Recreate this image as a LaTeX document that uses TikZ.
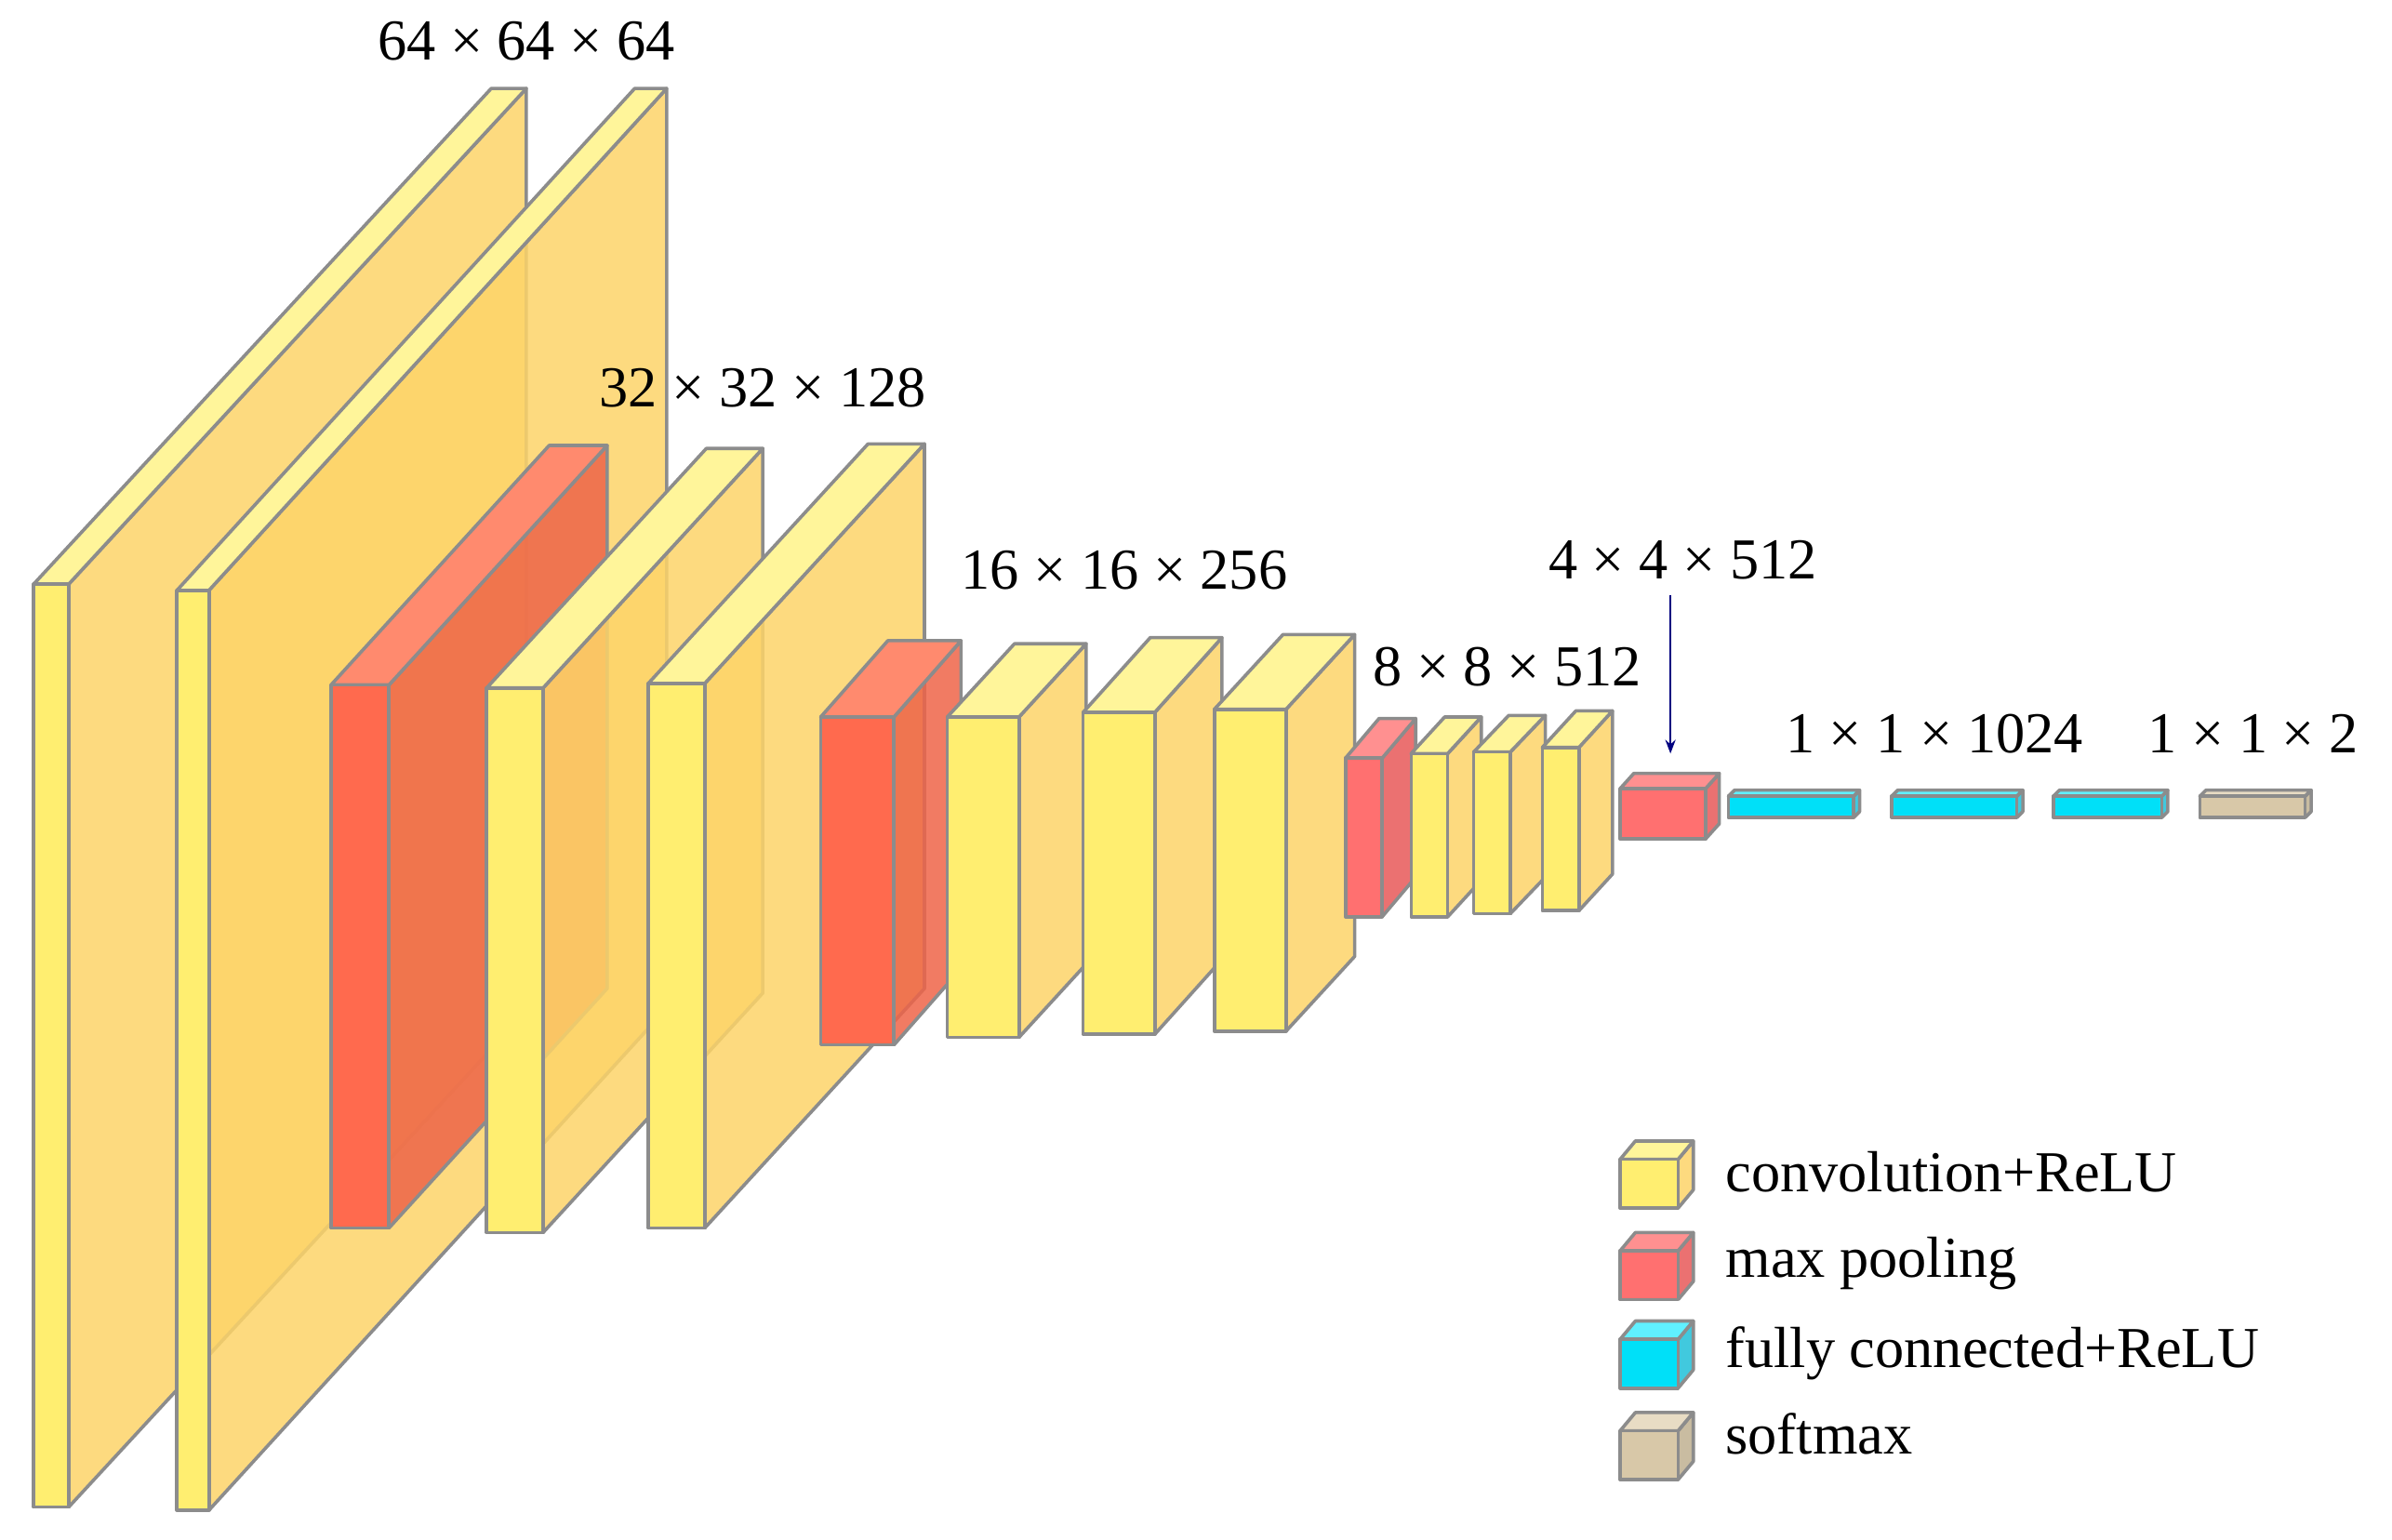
\documentclass[tikz,border=0pt]{standalone}
\usepackage{fontspec}
\usetikzlibrary{arrows.meta}
\setmainfont{Liberation Serif}
\definecolor{yf}{HTML}{FFEE70}\definecolor{yt}{HTML}{FFF59A}\definecolor{ys}{HTML}{FDD468}
\definecolor{rf}{HTML}{FF6A4E}\definecolor{rt}{HTML}{FF8A6E}\definecolor{rs}{HTML}{EE6448}
\definecolor{cf}{HTML}{00E0F8}\definecolor{ct}{HTML}{60F0FF}\definecolor{cs}{HTML}{20C0D8}
\definecolor{tf}{HTML}{D8C8A8}\definecolor{tt}{HTML}{E8DCC4}\definecolor{ts}{HTML}{C0B090}
\definecolor{pf}{HTML}{FF7070}\definecolor{pt}{HTML}{FF9090}\definecolor{ps}{HTML}{E85858}
\tikzset{edge/.style={draw=gray!90,line width=2.2pt,line join=round},
lbl/.style={font=\fontsize{38}{44}\selectfont,inner sep=0pt}}
% x1 y1 x2 y2 dx dy front top side
\newcommand{\mycube}[9]{%
 \fill[#9,fill opacity=0.85] (#3,#2)--(#3+#5,#2+#6)--(#3+#5,#4+#6)--(#3,#4)--cycle;
 \draw[edge] (#3,#2)--(#3+#5,#2+#6)--(#3+#5,#4+#6)--(#3,#4);
 \filldraw[edge,fill=#8] (#1,#2)--(#1+#5,#2+#6)--(#3+#5,#2+#6)--(#3,#2)--cycle;
 \filldraw[edge,fill=#7] (#1,#2) rectangle (#3,#4);}
\begin{document}
\begin{tikzpicture}[x=1pt,y=-1pt]
\useasboundingbox (0,0) rectangle (1568,1009);
\mycube{22}{383}{45}{988}{300}{-325}{yf}{yt}{ys}
\mycube{116}{387}{137}{990}{300}{-329}{yf}{yt}{ys}
\mycube{217}{449}{255}{805}{143}{-157}{rf}{rt}{rs}
\mycube{319}{451}{356}{808}{144}{-157}{yf}{yt}{ys}
\mycube{425}{448}{462}{805}{144}{-157}{yf}{yt}{ys}
\mycube{538}{470}{586}{685}{44}{-50}{rf}{rt}{rs}
\mycube{621}{470}{668}{680}{44}{-48}{yf}{yt}{ys}
\mycube{710}{467}{757}{678}{44}{-49}{yf}{yt}{ys}
\mycube{796}{465}{843}{676}{45}{-49}{yf}{yt}{ys}
\mycube{882}{497}{906}{601}{22}{-26}{pf}{pt}{ps}
\mycube{925}{494}{949}{601}{22}{-24}{yf}{yt}{ys}
\mycube{966}{493}{990}{599}{23}{-24}{yf}{yt}{ys}
\mycube{1011}{490}{1035}{597}{22}{-24}{yf}{yt}{ys}
\mycube{1062}{517}{1118}{550}{9}{-10}{pf}{pt}{ps}
\mycube{1133}{522}{1215}{536}{4}{-4}{cf}{ct}{cs}
\mycube{1240}{522}{1322}{536}{4}{-4}{cf}{ct}{cs}
\mycube{1346}{522}{1417}{536}{4}{-4}{cf}{ct}{cs}
\mycube{1442}{522}{1511}{536}{4}{-4}{tf}{tt}{ts}
\node[lbl] (l1) at (345,27) {64 × 64 × 64};
\node[lbl] (l2) at (500,254) {32 × 32 × 128};
\node[lbl] (l3) at (737,374) {16 × 16 × 256};
\node[lbl] (l4) at (988,437) {8 × 8 × 512};
\node[lbl] (l5) at (1103,367) {4 × 4 × 512};
\node[lbl] (l6) at (1268,481) {1 × 1 × 1024};
\node[lbl] (l7) at (1477,481) {1 × 1 × 2};
\coordinate (a1) at (1095,390); \coordinate (a2) at (1095,494);
\draw[-{Stealth[length=9pt]},color=blue!50!black,line width=1.3pt] (a1)--(a2);
\mycube{1062}{760}{1100}{792}{10}{-12}{yf}{yt}{ys}
\mycube{1062}{820}{1100}{852}{10}{-12}{pf}{pt}{ps}
\mycube{1062}{878}{1100}{910}{10}{-12}{cf}{ct}{cs}
\mycube{1062}{938}{1100}{970}{10}{-12}{tf}{tt}{ts}
\node[lbl,anchor=west] (g1) at (1131,768) {convolution+ReLU};
\node[lbl,anchor=west] (g2) at (1131,828) {max pooling};
\node[lbl,anchor=west] (g3) at (1131,887) {fully connected+ReLU};
\node[lbl,anchor=west] (g4) at (1131,940) {softmax};
\end{tikzpicture}
\end{document}
